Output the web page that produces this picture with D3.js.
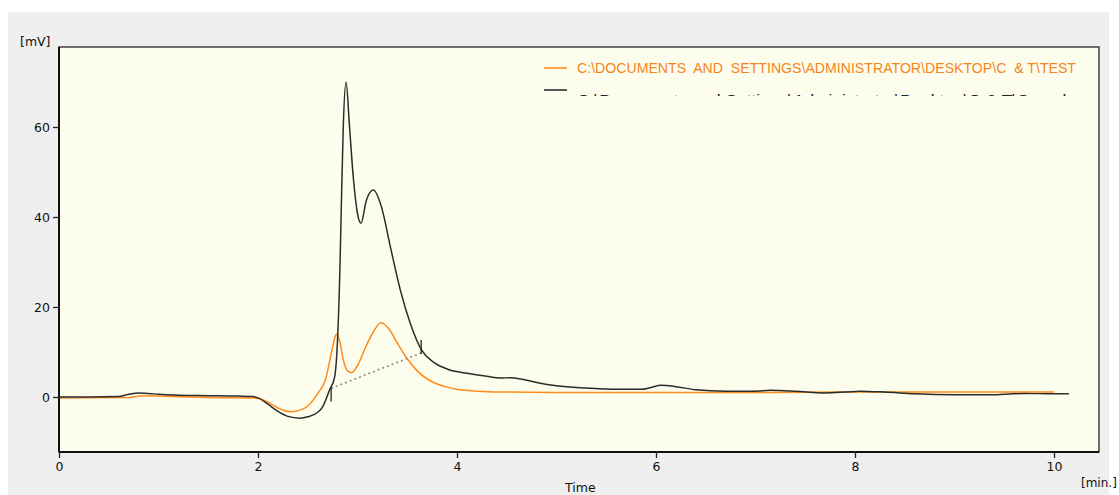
<!DOCTYPE html>
<html>
<head>
<meta charset="utf-8">
<script src="https://cdn.jsdelivr.net/npm/d3@7"></script>
<style>
  body { margin: 0; background: #fff; }
  svg { display: block; }
  .tick text { font-family: "DejaVu Sans", sans-serif; font-size: 12.5px; fill: #111; }
  .tick line { stroke: #222; stroke-width: 1.3; }
</style>
</head>
<body>
<div class="canvas"></div>
<script>
// chromatogram values (time in min, signal in mV)
const sampleTime = [0, 0.3, 0.6, 0.7, 0.8, 0.9, 1.0, 1.2, 1.5, 1.8, 1.95, 2.0, 2.1, 2.2, 2.3, 2.42, 2.5, 2.6, 2.65, 2.72, 2.77, 2.8, 2.825, 2.84, 2.857, 2.885, 2.92, 2.957, 2.998, 3.035, 3.09, 3.16, 3.24, 3.33, 3.43, 3.53, 3.645, 3.76, 3.93, 4.1, 4.3, 4.43, 4.55, 4.7, 4.85, 5.0, 5.3, 5.6, 5.85, 5.95, 6.05, 6.2, 6.4, 6.7, 7.0, 7.15, 7.4, 7.7, 7.9, 8.05, 8.3, 8.6, 9.0, 9.4, 9.7, 10.0, 10.15];
const sampleMv   = [0, 0, 0.1, 0.6, 0.9, 0.8, 0.6, 0.4, 0.3, 0.2, 0.1, -0.2, -1.6, -3.2, -4.3, -4.7, -4.4, -3.4, -2.2, 1.6, 4.4, 13, 30, 45, 60, 70, 60, 49, 41, 38.6, 43.8, 46, 42.3, 33.4, 23.8, 16.4, 10.4, 7.8, 6, 5.3, 4.6, 4.2, 4.3, 3.7, 3.0, 2.5, 2.0, 1.7, 1.7, 2.1, 2.6, 2.3, 1.6, 1.3, 1.3, 1.5, 1.3, 0.9, 1.1, 1.3, 1.1, 0.7, 0.5, 0.5, 0.8, 0.7, 0.7];

const testTime = [0, 0.7, 0.85, 1.0, 1.5, 1.95, 2.05, 2.15, 2.25, 2.33, 2.45, 2.52, 2.6, 2.68, 2.73, 2.77, 2.79, 2.82, 2.86, 2.9, 2.94, 3.0, 3.08, 3.16, 3.236, 3.32, 3.4, 3.5, 3.6, 3.7, 3.8, 3.9, 4.0, 4.2, 4.5, 5.0, 6.0, 7.0, 8.0, 9.0, 10.0];
const testMv   = [-0.2, -0.1, 0.3, 0.2, -0.1, -0.2, -0.6, -1.8, -2.9, -3.3, -2.7, -1.6, 0.8, 4, 9, 13, 14, 12.5, 8, 5.8, 5.4, 7, 11, 14.5, 16.5, 15, 12, 8.5, 5.8, 4.0, 2.9, 2.2, 1.7, 1.3, 1.1, 1.0, 1.0, 1.0, 1.1, 1.1, 1.1];

// integration baseline under the main peak
const baselineTime = [2.735, 3.64];
const baselineMv = [1.9, 9.8];

const xTicks = [0, 2, 4, 6, 8, 10];
const yTicks = [0, 20, 40, 60];
const legendLabels = [
  "C:\\DOCUMENTS  AND  SETTINGS\\ADMINISTRATOR\\DESKTOP\\C  & T\\TEST",
  "C:\\Documents and Settings\\Administrator\\Desktop\\C & T\\Sample"
];
const seriesColors = ["#ff8c1a", "#2b2b2b"];

const dims = { width: 1119, height: 495 };
const plot = { left: 59, top: 47, right: 1099, bottom: 452 };

const svg = d3
  .select(".canvas")
  .append("svg")
  .attr("width", dims.width)
  .attr("height", dims.height);

// grey panel + cream plotting area
svg.append("rect")
  .attr("x", 8).attr("y", 12)
  .attr("width", 1101).attr("height", dims.height - 12)
  .attr("fill", "#efefef");

svg.append("rect")
  .attr("x", plot.left).attr("y", plot.top)
  .attr("width", plot.right - plot.left).attr("height", plot.bottom - plot.top)
  .attr("fill", "#fdfded");

const x = d3.scaleLinear()
  .domain([0, (plot.right - plot.left) / 99.5])
  .range([plot.left, plot.right]);

const y = d3.scaleLinear()
  .domain([-(plot.bottom - 397) / 4.5, (397 - plot.top) / 4.5])
  .range([plot.bottom, plot.top]);

svg.append("clipPath").attr("id", "plotClip")
  .append("rect")
  .attr("x", plot.left).attr("y", plot.top)
  .attr("width", plot.right - plot.left).attr("height", plot.bottom - plot.top);

const group = svg.append("g").attr("clip-path", "url(#plotClip)");

const line = d3.line()
  .x((d) => x(d[0]))
  .y((d) => y(d[1]))
  .curve(d3.curveMonotoneX);

// test trace (orange) first, sample trace (black) on top
group.append("path")
  .datum(d3.zip(testTime, testMv))
  .attr("d", line)
  .attr("fill", "none")
  .attr("stroke", seriesColors[0])
  .attr("stroke-width", 1.5);

group.append("path")
  .datum(d3.zip(sampleTime, sampleMv))
  .attr("d", line)
  .attr("fill", "none")
  .attr("stroke", seriesColors[1])
  .attr("stroke-width", 1.5);

// dotted baseline and its start / end markers
group.append("line")
  .attr("x1", x(baselineTime[0])).attr("y1", y(baselineMv[0]))
  .attr("x2", x(baselineTime[1])).attr("y2", y(baselineMv[1]))
  .attr("stroke", "#8a8a8a")
  .attr("stroke-width", 1.6)
  .attr("stroke-dasharray", "2,3");

group.append("line")
  .attr("x1", x(baselineTime[0])).attr("x2", x(baselineTime[0]))
  .attr("y1", y(baselineMv[0]) - 2).attr("y2", y(baselineMv[0]) + 13)
  .attr("stroke", "#222").attr("stroke-width", 1.3);

group.append("line")
  .attr("x1", x(baselineTime[1])).attr("x2", x(baselineTime[1]))
  .attr("y1", y(baselineMv[1]) - 13).attr("y2", y(baselineMv[1]) + 1)
  .attr("stroke", "#222").attr("stroke-width", 1.3);

// frame
svg.append("rect")
  .attr("x", plot.left).attr("y", plot.top)
  .attr("width", plot.right - plot.left).attr("height", plot.bottom - plot.top)
  .attr("fill", "none")
  .attr("stroke", "#333")
  .attr("stroke-width", 1.4);

svg.append("line")
  .attr("x1", plot.left).attr("x2", plot.left)
  .attr("y1", plot.top).attr("y2", plot.bottom)
  .attr("stroke", "#111").attr("stroke-width", 2);

svg.append("line")
  .attr("x1", plot.left).attr("x2", plot.right)
  .attr("y1", plot.bottom).attr("y2", plot.bottom)
  .attr("stroke", "#111").attr("stroke-width", 2);

// axes
const xAxis = svg.append("g")
  .attr("transform", `translate(0, ${plot.bottom})`)
  .call(d3.axisBottom(x).tickValues(xTicks).tickSize(6).tickPadding(4).tickFormat(d3.format("d")));
xAxis.select(".domain").remove();

const yAxis = svg.append("g")
  .attr("transform", `translate(${plot.left}, 0)`)
  .call(d3.axisLeft(y).tickValues(yTicks).tickSize(6).tickPadding(3).tickFormat(d3.format("d")));
yAxis.select(".domain").remove();

const labelFont = (sel) => sel
  .attr("font-family", "DejaVu Sans, sans-serif")
  .attr("font-size", 12.5)
  .attr("fill", "#111");

svg.append("text").attr("x", 20).attr("y", 46).text("[mV]").call(labelFont);
svg.append("text").attr("x", 565).attr("y", 492).text("Time").call(labelFont);
svg.append("text").attr("x", 1081).attr("y", 487).text("[min.]").call(labelFont).attr("font-size", 12);

// legend (second row is cut off by the legend box, as in the original)
svg.append("clipPath").attr("id", "legendClip")
  .append("rect")
  .attr("x", 530).attr("y", 50).attr("width", 560).attr("height", 46);

const LegendGroup = svg.append("g").attr("clip-path", "url(#legendClip)");

const legendRows = [
  { y: 68, textY: 73 },
  { y: 90, textY: 105 }
];

legendLabels.forEach((label, i) => {
  LegendGroup.append("line")
    .attr("x1", 544).attr("x2", 567)
    .attr("y1", legendRows[i].y).attr("y2", legendRows[i].y)
    .attr("stroke", seriesColors[i])
    .attr("stroke-width", 1.6);
  LegendGroup.append("text")
    .attr("x", 577)
    .attr("y", legendRows[i].textY)
    .attr("font-family", "Liberation Sans, Arial, sans-serif")
    .attr("font-size", 14)
    .attr("textLength", 499)
    .attr("lengthAdjust", "spacingAndGlyphs")
    .attr("fill", i === 0 ? "#f7841a" : "#222")
    .attr("xml:space", "preserve")
    .text(label);
});
</script>
</body>
</html>
